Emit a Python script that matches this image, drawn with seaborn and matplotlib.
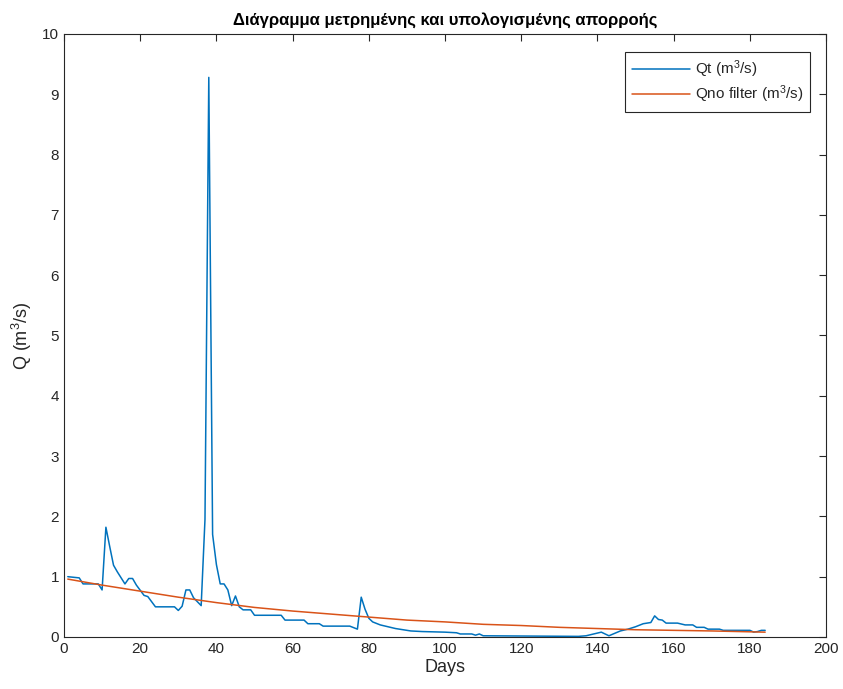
import numpy as np
import pandas as pd
import matplotlib
matplotlib.use("Agg")
import matplotlib.pyplot as plt
import seaborn as sns

qt_days = [1, 4, 5, 9, 10, 11, 12, 13, 14, 16, 17, 18, 19, 21, 22, 24, 29, 30, 31, 32,
           33, 34, 36, 37, 38, 39, 40, 41, 42, 43, 44, 45, 46, 47, 49, 50, 57, 58, 63,
           64, 67, 68, 75, 77, 78, 79, 80, 81, 83, 87, 91, 94, 100, 103, 104, 107, 108,
           109, 110, 135, 137, 139, 141, 143, 146, 148, 150, 152, 154, 155, 156, 157,
           158, 161, 163, 165, 166, 168, 169, 172, 173, 180, 181, 182, 183, 184]
qt_vals = [1.00, 0.98, 0.88, 0.88, 0.78, 1.82, 1.50, 1.19, 1.08, 0.88, 0.97, 0.97, 0.86,
           0.69, 0.67, 0.50, 0.50, 0.44, 0.51, 0.78, 0.78, 0.65, 0.52, 1.95, 9.28, 1.70,
           1.20, 0.88, 0.88, 0.78, 0.52, 0.68, 0.50, 0.45, 0.45, 0.36, 0.36, 0.28, 0.28,
           0.22, 0.22, 0.18, 0.18, 0.13, 0.66, 0.46, 0.31, 0.25, 0.20, 0.14, 0.10, 0.09,
           0.08, 0.07, 0.05, 0.05, 0.03, 0.05, 0.02, 0.01, 0.02, 0.05, 0.08, 0.02, 0.10,
           0.13, 0.17, 0.22, 0.24, 0.35, 0.29, 0.28, 0.23, 0.23, 0.20, 0.20, 0.16, 0.16,
           0.13, 0.13, 0.11, 0.11, 0.08, 0.09, 0.11, 0.11]

# Computed runoff (no filter)
qno_days = [1, 10, 20, 30, 40, 50, 60, 70, 80, 90, 100, 110, 120, 130, 140, 150, 160,
            170, 184]
qno_vals = [0.96, 0.86, 0.76, 0.66, 0.57, 0.49, 0.43, 0.38, 0.33, 0.28, 0.25, 0.21,
            0.19, 0.16, 0.14, 0.12, 0.11, 0.10, 0.08]

sns.set_style("white")
plt.rcParams['font.family'] = ['Liberation Sans', 'DejaVu Sans']
plt.rcParams['mathtext.fontset'] = 'custom'
plt.rcParams['mathtext.rm'] = 'Liberation Sans'
plt.rcParams['mathtext.default'] = 'regular'

axc = '#262626'
fig = plt.figure(figsize=(8.43, 6.89), dpi=100)
ax = fig.add_axes([0.0759, 0.0755, 0.9041, 0.8752])

df_qt = pd.DataFrame({"Days": qt_days, "Q": qt_vals})
df_qno = pd.DataFrame({"Days": qno_days, "Q": qno_vals})
sns.lineplot(data=df_qt, x="Days", y="Q", ax=ax, color='#0072BD', lw=1.1,
             label='Qt (m$^3$/s)')
sns.lineplot(data=df_qno, x="Days", y="Q", ax=ax, color='#D95319', lw=1.1,
             label='Qno filter (m$^3$/s)')

ax.set_xlim(0, 200)
ax.set_ylim(0, 10)
ax.set_xticks(np.arange(0, 201, 20))
ax.set_yticks(np.arange(0, 11, 1))
ax.tick_params(direction='in', length=5, width=0.8, colors=axc, labelsize=11,
               top=True, right=True, labelcolor=axc)
for s in ax.spines.values():
    s.set_color(axc)
    s.set_linewidth(0.8)
    s.set_visible(True)

ax.set_xlabel("Days", fontsize=13, color=axc, labelpad=2)
ax.set_ylabel("Q (m$^3$/s)", fontsize=13, color=axc, labelpad=6)
ax.set_title("Διάγραμμα μετρημένης και υπολογισμένης απορροής", fontsize=12,
             fontweight='bold', color='black', pad=7)

leg = ax.legend(loc='upper right', bbox_to_anchor=(0.989, 0.983), fontsize=11,
                frameon=True, fancybox=False, borderpad=0.45, handlelength=3.8,
                handletextpad=0.3, labelspacing=0.2)
leg.get_frame().set_edgecolor(axc)
leg.get_frame().set_linewidth(0.8)
leg.get_frame().set_alpha(1)

fig.savefig("out.png", dpi=100)
